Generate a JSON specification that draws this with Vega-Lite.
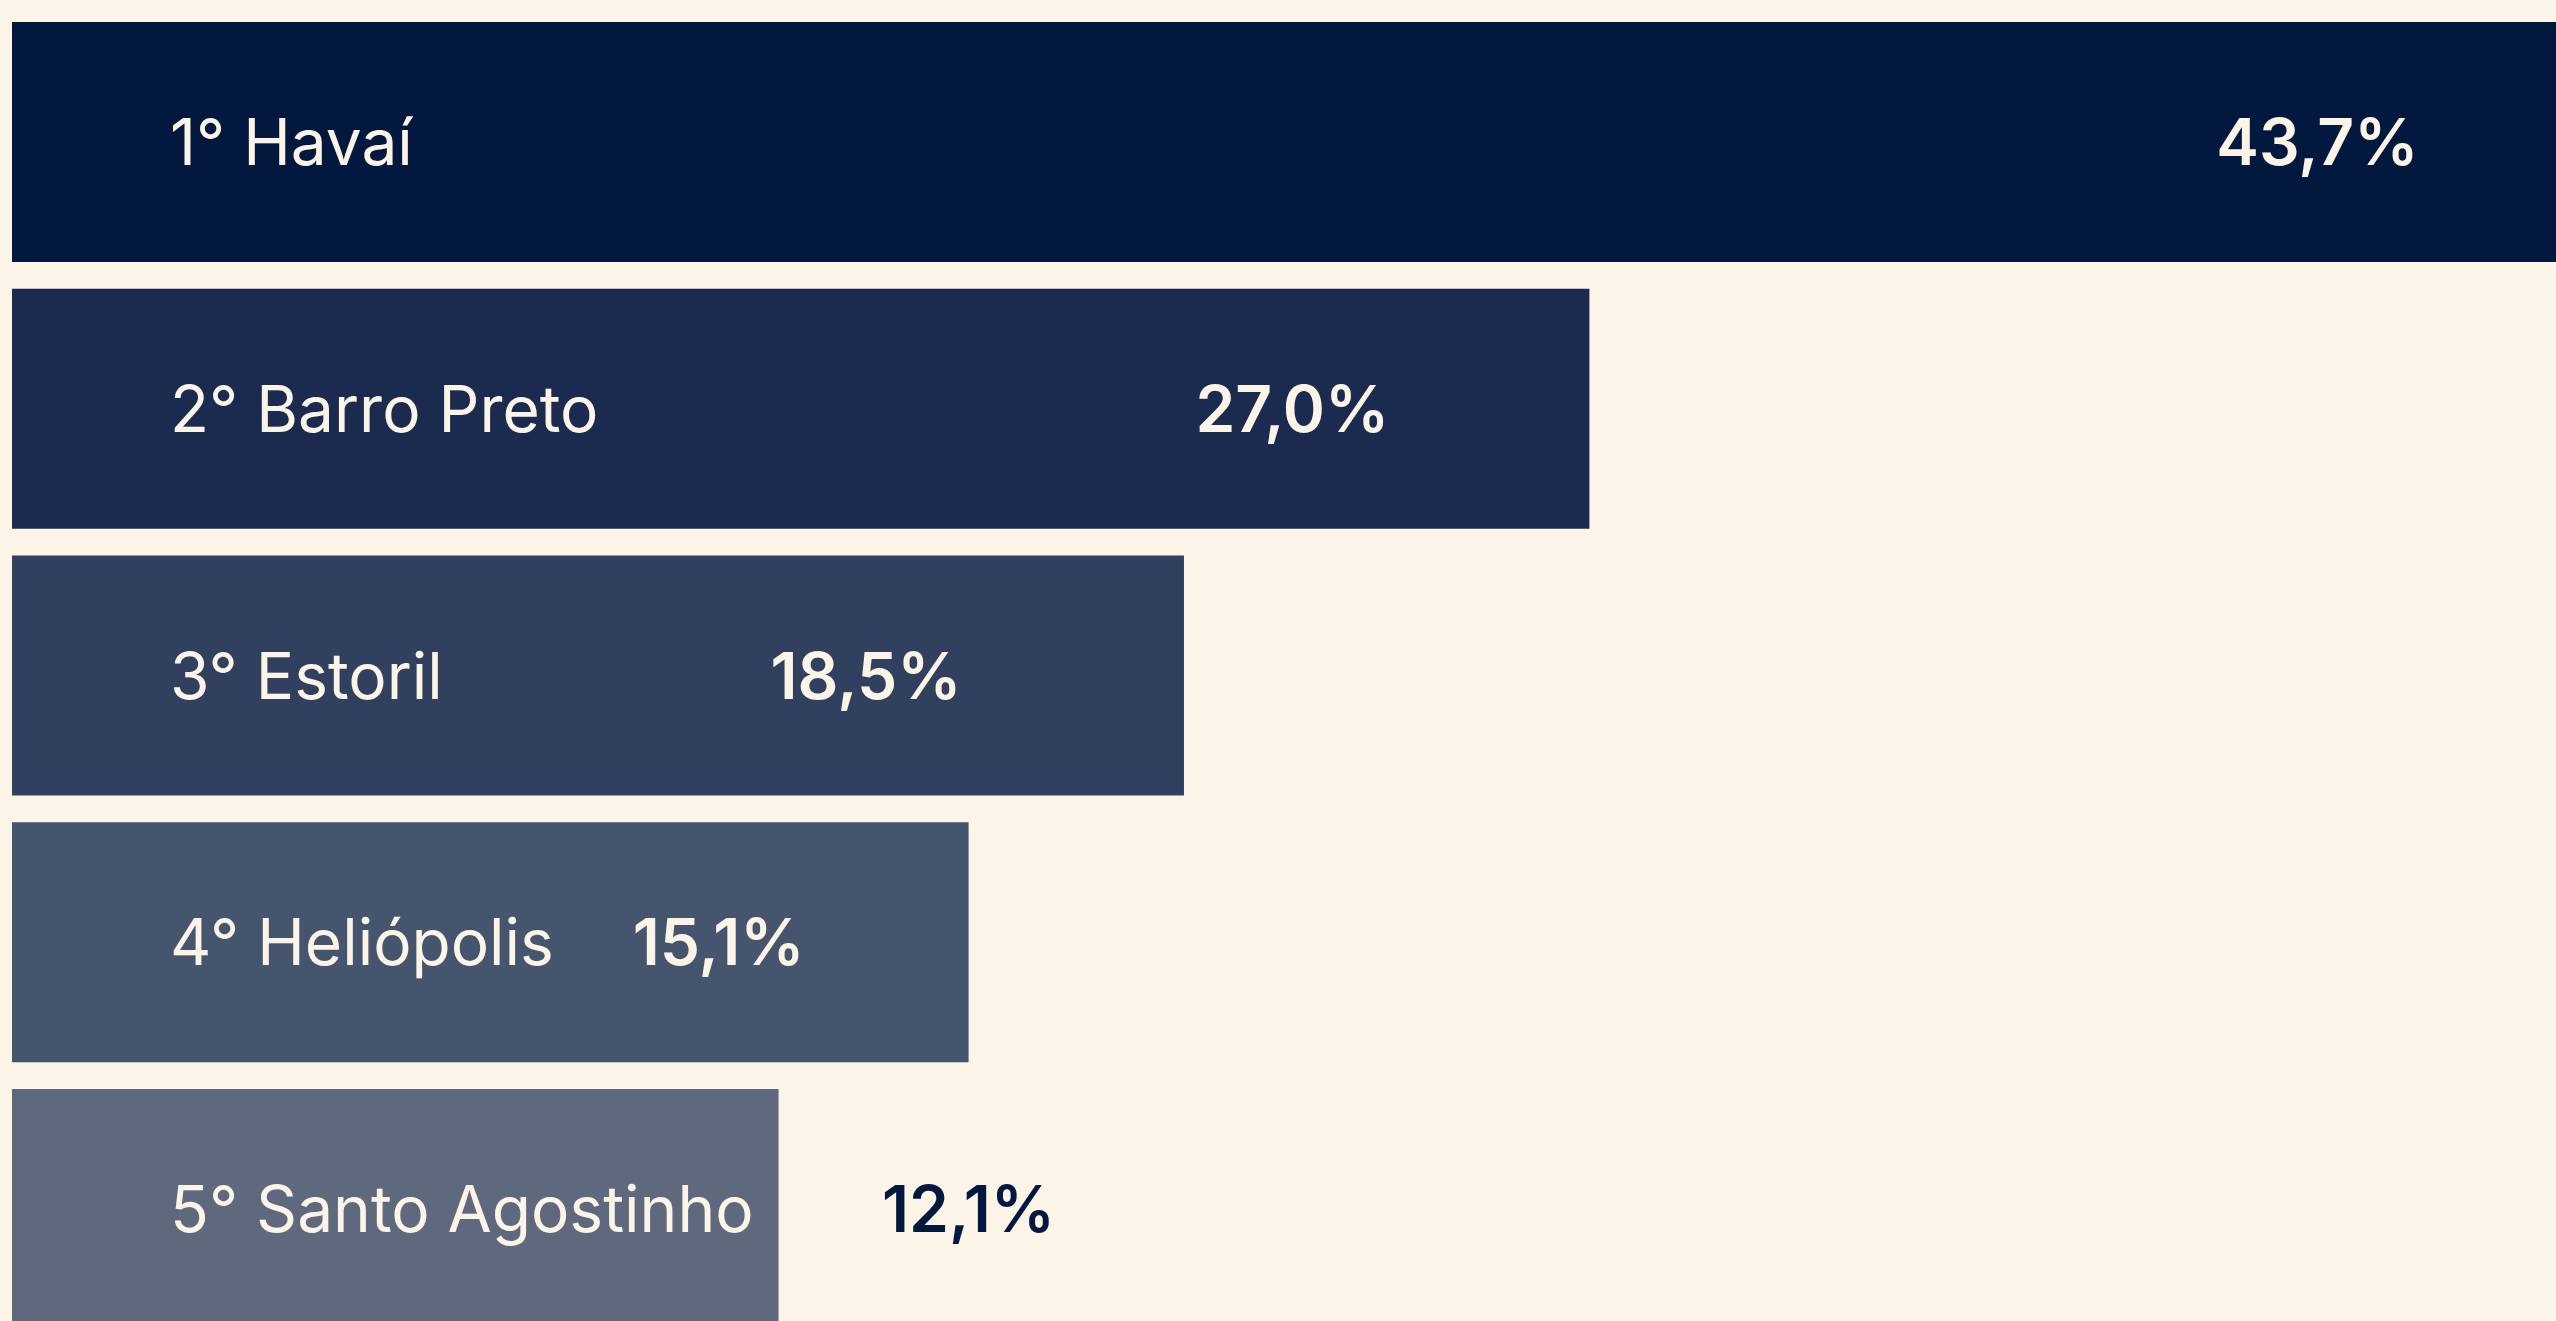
{
  "$schema": "https://vega.github.io/schema/vega-lite/v6.json",
  "width": 2556,
  "height": 1321,
  "autosize": {"type": "none"},
  "padding": 0,
  "background": "#fbf4e7",
  "config": {
    "view": {"stroke": null},
    "locale": {"number": {"decimal": ",", "thousands": ".", "grouping": [3], "currency": ["R$", ""]}}
  },
  "data": {
    "values": [
      {"bairro": "1° Havaí", "participacao": 0.437, "barra": 43.7},
      {"bairro": "2° Barro Preto", "participacao": 0.270, "barra": 24.9},
      {"bairro": "3° Estoril", "participacao": 0.185, "barra": 18.5},
      {"bairro": "4° Heliópolis", "participacao": 0.151, "barra": 15.1},
      {"bairro": "5° Santo Agostinho", "participacao": 0.121, "barra": 12.1}
    ]
  },
  "encoding": {
    "y": {
      "field": "bairro",
      "type": "nominal",
      "sort": null,
      "scale": {"range": [22, 1329], "paddingInner": 0.1, "paddingOuter": 0},
      "axis": null
    }
  },
  "layer": [
    {
      "mark": {"type": "bar", "clip": true},
      "encoding": {
        "x": {"field": "barra", "type": "quantitative", "scale": {"domain": [0, 40], "range": [12, 2546], "zero": true}, "axis": null},
        "color": {
          "field": "bairro",
          "type": "nominal",
          "sort": null,
          "scale": {
            "domain": ["1° Havaí", "2° Barro Preto", "3° Estoril", "4° Heliópolis", "5° Santo Agostinho"],
            "range": ["#03183f", "#1b2b4f", "#30405e", "#46556e", "#5e697d"]
          },
          "legend": null
        }
      }
    },
    {
      "mark": {"type": "text", "align": "left", "baseline": "middle", "font": "Inter", "fontSize": 64, "fontWeight": 400, "color": "#fbf4e7", "dx": 158, "dy": 4},
      "encoding": {
        "x": {"datum": 0, "type": "quantitative"},
        "text": {"field": "bairro"}
      }
    },
    {
      "transform": [{"filter": {"field": "bairro", "equal": "1° Havaí"}}],
      "mark": {"type": "text", "align": "center", "baseline": "middle", "font": "Inter", "fontSize": 64, "fontWeight": 600, "color": "#fbf4e7", "dx": -463, "dy": 4},
      "encoding": {
        "x": {"field": "barra", "type": "quantitative"},
        "text": {"field": "participacao", "type": "quantitative", "format": ".1%"}
      }
    },
    {
      "transform": [{"filter": {"field": "bairro", "equal": "2° Barro Preto"}}],
      "mark": {"type": "text", "align": "center", "baseline": "middle", "font": "Inter", "fontSize": 64, "fontWeight": 600, "color": "#fbf4e7", "dx": -297, "dy": 4},
      "encoding": {
        "x": {"field": "barra", "type": "quantitative"},
        "text": {"field": "participacao", "type": "quantitative", "format": ".1%"}
      }
    },
    {
      "transform": [{"filter": {"field": "bairro", "equal": "3° Estoril"}}],
      "mark": {"type": "text", "align": "center", "baseline": "middle", "font": "Inter", "fontSize": 64, "fontWeight": 600, "color": "#fbf4e7", "dx": -318, "dy": 4},
      "encoding": {
        "x": {"field": "barra", "type": "quantitative"},
        "text": {"field": "participacao", "type": "quantitative", "format": ".1%"}
      }
    },
    {
      "transform": [{"filter": {"field": "bairro", "equal": "4° Heliópolis"}}],
      "mark": {"type": "text", "align": "center", "baseline": "middle", "font": "Inter", "fontSize": 64, "fontWeight": 600, "color": "#fbf4e7", "dx": -250, "dy": 4},
      "encoding": {
        "x": {"field": "barra", "type": "quantitative"},
        "text": {"field": "participacao", "type": "quantitative", "format": ".1%"}
      }
    },
    {
      "transform": [{"filter": {"field": "bairro", "equal": "5° Santo Agostinho"}}],
      "mark": {"type": "text", "align": "center", "baseline": "middle", "font": "Inter", "fontSize": 64, "fontWeight": 600, "color": "#03183f", "dx": 190, "dy": 4},
      "encoding": {
        "x": {"field": "barra", "type": "quantitative"},
        "text": {"field": "participacao", "type": "quantitative", "format": ".1%"}
      }
    }
  ]
}
